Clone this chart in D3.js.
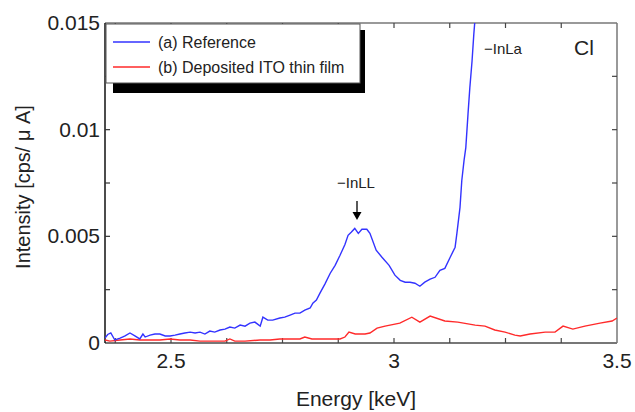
<!DOCTYPE html>
<html><head><meta charset="utf-8">
<script src="https://cdn.jsdelivr.net/npm/d3@7"></script>
<style>body{margin:0;background:#fff}svg{display:block}</style>
</head><body>
<svg id="c" width="635" height="412"></svg>
<script>
const blueEnergy = [2.352,2.358,2.365,2.374,2.386,2.397,2.408,2.419,2.430,2.437,2.442,2.453,2.464,2.475,2.487,2.498,2.509,2.520,2.531,2.543,2.554,2.565,2.576,2.587,2.598,2.610,2.621,2.632,2.643,2.655,2.666,2.677,2.688,2.700,2.706,2.717,2.728,2.744,2.755,2.767,2.778,2.789,2.800,2.812,2.818,2.826,2.834,2.845,2.857,2.868,2.879,2.890,2.897,2.904,2.912,2.920,2.928,2.939,2.946,2.960,2.973,2.989,3.002,3.014,3.025,3.036,3.047,3.058,3.069,3.081,3.092,3.103,3.114,3.126,3.137,3.141,3.148,3.152,3.157,3.161,3.166,3.170,3.175,3.179,3.184];
const blueIntensity = [0.00023,0.00040,0.00047,0.00014,0.00023,0.00033,0.00047,0.00033,0.00019,0.00042,0.00028,0.00037,0.00042,0.00042,0.00033,0.00033,0.00037,0.00042,0.00047,0.00051,0.00047,0.00051,0.00042,0.00056,0.00051,0.00061,0.00065,0.00075,0.00070,0.00084,0.00079,0.00093,0.00098,0.00079,0.00121,0.00107,0.00107,0.00117,0.00121,0.00131,0.00140,0.00140,0.00154,0.00164,0.00187,0.00201,0.00234,0.00276,0.00327,0.00364,0.00411,0.00462,0.00505,0.00519,0.00537,0.00514,0.00533,0.00533,0.00514,0.00435,0.00402,0.00364,0.00318,0.00294,0.00285,0.00285,0.00280,0.00266,0.00285,0.00299,0.00308,0.00341,0.00350,0.00402,0.00449,0.00514,0.00636,0.00762,0.00855,0.00916,0.01075,0.01196,0.01322,0.01449,0.01580];
const redEnergy = [2.352,2.363,2.386,2.408,2.430,2.453,2.475,2.498,2.520,2.543,2.565,2.599,2.621,2.632,2.643,2.666,2.700,2.722,2.744,2.767,2.789,2.800,2.816,2.857,2.879,2.890,2.899,2.913,2.935,2.946,2.962,2.980,3.013,3.040,3.058,3.081,3.114,3.143,3.182,3.204,3.226,3.249,3.271,3.283,3.305,3.339,3.361,3.379,3.401,3.428,3.462,3.489,3.500];
const redIntensity = [0.00014,0.00009,0.00014,0.00019,0.00014,0.00014,0.00014,0.00019,0.00014,0.00014,0.00009,0.00009,0.00009,0.00019,0.00009,0.00009,0.00014,0.00014,0.00019,0.00019,0.00019,0.00028,0.00019,0.00019,0.00019,0.00028,0.00051,0.00042,0.00042,0.00047,0.00070,0.00079,0.00093,0.00121,0.00098,0.00126,0.00103,0.00098,0.00084,0.00079,0.00061,0.00051,0.00037,0.00033,0.00042,0.00051,0.00051,0.00079,0.00065,0.00079,0.00093,0.00103,0.00117];
const xTicks = [2.5, 3, 3.5];
const xTickLabels = ["2.5", "3", "3.5"];
const xMinorTicks = [2.375,2.5,2.625,2.75,2.875,3,3.125,3.25,3.375];
const yTicks = [0, 0.005, 0.01, 0.015];
const yTickLabels = ["0", "0.005", "0.01", "0.015"];
const yMinorTicks = [0.0025,0.005,0.0075,0.01,0.0125];
const legendLabels = ["(a) Reference", "(b) Deposited ITO thin film"];
const colors = ["#3333ff", "#ff2a2a"];

const svg = d3.select("#c");
const L = 105, R = 617, T = 23, B = 343;
const x = d3.scaleLinear().domain([2.352, 3.5]).range([L, R]);
const y = d3.scaleLinear().domain([0, 0.015]).range([B, T]);
const font = "Arial, 'Liberation Sans', sans-serif";

svg.append("defs").append("clipPath").attr("id","clip")
  .append("rect").attr("x",L).attr("y",T).attr("width",R-L).attr("height",B-T);

// frame
svg.append("line").attr("x1",L).attr("x2",R).attr("y1",T).attr("y2",T).attr("stroke","#777").attr("stroke-width",1.5);
svg.append("line").attr("x1",R).attr("x2",R).attr("y1",T).attr("y2",B).attr("stroke","#777").attr("stroke-width",1.5);
svg.append("line").attr("x1",L).attr("x2",R).attr("y1",B).attr("y2",B).attr("stroke","#777").attr("stroke-width",2);
svg.append("line").attr("x1",L).attr("x2",L).attr("y1",T).attr("y2",B).attr("stroke","#111").attr("stroke-width",1.5);

// ticks
const tg = svg.append("g");
xMinorTicks.forEach(v => {
  tg.append("line").attr("x1",x(v)).attr("x2",x(v)).attr("y1",B).attr("y2",B-5).attr("stroke","#444").attr("stroke-width",1.2);
  tg.append("line").attr("x1",x(v)).attr("x2",x(v)).attr("y1",T).attr("y2",T+5).attr("stroke","#444").attr("stroke-width",1.2);
});
yMinorTicks.forEach(v => {
  tg.append("line").attr("x1",L).attr("x2",L+5).attr("y1",y(v)).attr("y2",y(v)).attr("stroke","#333").attr("stroke-width",1.2);
  tg.append("line").attr("x1",R).attr("x2",R-5).attr("y1",y(v)).attr("y2",y(v)).attr("stroke","#444").attr("stroke-width",1.2);
});

// tick labels
xTicks.forEach((v,i) => {
  svg.append("text").attr("x",x(v)).attr("y",368).attr("text-anchor","middle")
    .attr("font-family",font).attr("font-size",21).attr("fill","#222").text(xTickLabels[i]);
});
yTicks.forEach((v,i) => {
  svg.append("text").attr("x",100).attr("y",y(v)+7).attr("text-anchor","end")
    .attr("font-family",font).attr("font-size",21).attr("fill","#222").text(yTickLabels[i]);
});

// axis titles
svg.append("text").attr("x",356).attr("y",406).attr("text-anchor","middle")
  .attr("font-family",font).attr("font-size",21).attr("fill","#222").text("Energy [keV]");
svg.append("text").attr("transform","translate(30,187) rotate(-90)").attr("text-anchor","middle")
  .attr("font-family",font).attr("font-size",20).attr("fill","#222").text("Intensity [cps/ \u03BC A]");

// lines
const line = d3.line().x(d => x(d[0])).y(d => y(d[1]));
const plot = svg.append("g").attr("clip-path","url(#clip)");
plot.append("path").datum(redEnergy.map((e,i)=>[e,redIntensity[i]]))
  .attr("d",line).attr("fill","none").attr("stroke",colors[1]).attr("stroke-width",1.4);
plot.append("path").datum(blueEnergy.map((e,i)=>[e,blueIntensity[i]]))
  .attr("d",line).attr("fill","none").attr("stroke",colors[0]).attr("stroke-width",1.4);

// legend with shadow
svg.append("rect").attr("x",113).attr("y",30).attr("width",252).attr("height",63).attr("fill","#000");
svg.append("rect").attr("x",106).attr("y",24).attr("width",254).attr("height",59).attr("fill","#fff").attr("stroke","#555").attr("stroke-width",1);
legendLabels.forEach((t,i) => {
  const ly = 42 + i*25;
  svg.append("line").attr("x1",113).attr("x2",150).attr("y1",ly).attr("y2",ly).attr("stroke",colors[i]).attr("stroke-width",1.4);
  svg.append("text").attr("x",158).attr("y",ly+6).attr("font-family",font).attr("font-size",16).attr("fill","#222").text(t);
});

// annotations
svg.append("text").attr("x",484).attr("y",54).attr("font-family",font).attr("font-size",15).attr("fill","#222").text("\u2212InLa");
svg.append("text").attr("x",574).attr("y",55).attr("font-family",font).attr("font-size",21).attr("fill","#222").text("Cl");
svg.append("text").attr("x",337).attr("y",188).attr("font-family",font).attr("font-size",15).attr("fill","#222").text("\u2212InLL");
svg.append("line").attr("x1",357).attr("x2",357).attr("y1",201).attr("y2",214).attr("stroke","#000").attr("stroke-width",1.3);
svg.append("path").attr("d","M352.5,212 L361.5,212 L357,220 Z").attr("fill","#000");
</script>
</body></html>
